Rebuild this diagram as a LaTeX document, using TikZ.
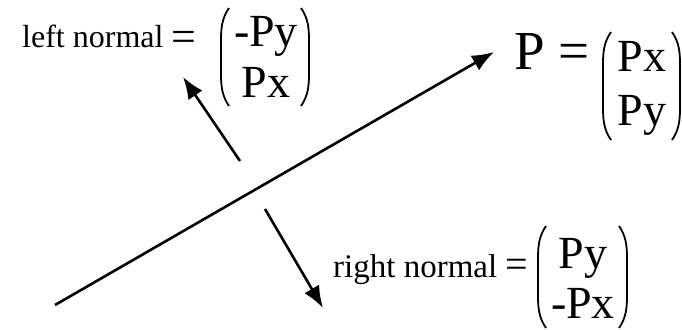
\documentclass[tikz,border=0pt]{standalone}
\usepackage{fontspec}
\setmainfont{Liberation Serif}
\usetikzlibrary{arrows.meta}
\newcommand\prn[4]{%
  \draw[paren] ({#1+8},{#3}) .. controls ({#1+1},{#3+10}) and ({#1},{#3+20}) .. ({#1},{#3+32})
     -- ({#1},{#4-32}) .. controls ({#1},{#4-20}) and ({#1+1},{#4-10}) .. ({#1+8},{#4});
  \draw[paren] ({#2-8},{#3}) .. controls ({#2-1},{#3+10}) and ({#2},{#3+20}) .. ({#2},{#3+32})
     -- ({#2},{#4-32}) .. controls ({#2},{#4-20}) and ({#2-1},{#4-10}) .. ({#2-8},{#4});
}
\begin{document}
\begin{tikzpicture}[x=1pt,y=-1pt,
  vec/.style={line width=2.6pt,-{Latex[length=22pt,width=17pt]}},
  lbl/.style={inner sep=0pt,anchor=base west,font=\fontsize{32}{36}\selectfont},
  ent/.style={inner sep=0pt,align=center},
  paren/.style={line width=1.8pt}]
\useasboundingbox (0,0) rectangle (682,329);
% main vector
\coordinate (s) at (55,305);
\coordinate (t) at (494,52);
\draw[vec] (s) -- (t);
% left normal
\coordinate (l1) at (240,161);
\coordinate (l2) at (183,77);
\draw[vec] (l1) -- (l2);
% right normal
\coordinate (r1) at (265,209);
\coordinate (r2) at (323,308);
\draw[vec] (r1) -- (r2);
% labels
\node[lbl] (lt) at (22,48) {left normal \raisebox{-4pt}{\fontsize{44}{48}\selectfont =}};
\node[lbl,font=\fontsize{55}{60}\selectfont] (pt) at (514,70) {P =};
\node[lbl,font=\fontsize{33}{36}\selectfont] (rt) at (333,277) {right normal {\fontsize{40}{44}\selectfont =}};
% vectors
\node[ent,font=\fontsize{46}{51}\selectfont] (lm) at (266,57.3) {-Py\\Px};
\prn{221}{309}{8}{106}
\node[ent,font=\fontsize{46}{54}\selectfont] (pm) at (642,88.8) {Px\\Py};
\prn{603}{680}{32}{140}
\node[ent,font=\fontsize{46}{50}\selectfont] (rm) at (583,278.8) {Py\\-Px};
\prn{538}{627}{226}{328}
\end{tikzpicture}
\end{document}
